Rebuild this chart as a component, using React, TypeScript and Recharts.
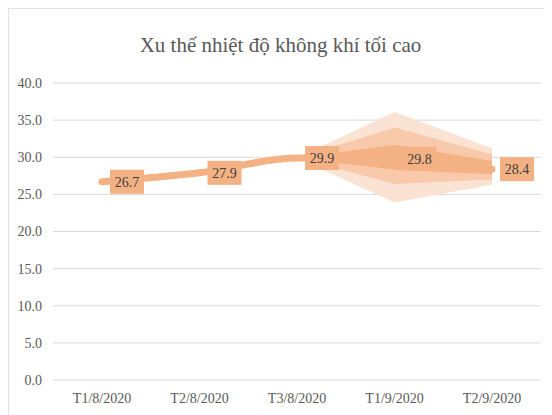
import { ComposedChart, Line, Area, XAxis, YAxis, CartesianGrid, LabelList } from "recharts";

const categories = ["T1/8/2020", "T2/8/2020", "T3/8/2020", "T1/9/2020", "T2/9/2020"];
const maxTemp = [26.7, 27.9, 29.9, 29.8, 28.4];

// forecast cone, three bands (outer = lightest)
const outerLow = [null, null, 29.9, 23.9, 26.3];
const outerHigh = [null, null, 29.9, 36.1, 31.2];
const midLow = [null, null, 29.9, 26.4, 27.0];
const midHigh = [null, null, 29.9, 34.0, 30.4];
const innerLow = [null, null, 29.9, 28.3, 27.7];
const innerHigh = [null, null, 29.9, 31.7, 29.5];

const yTicks = [0, 5, 10, 15, 20, 25, 30, 35, 40];

const range = (lo: (number | null)[], hi: (number | null)[], i: number) =>
  lo[i] == null || hi[i] == null ? null : [lo[i], hi[i]];

const data = categories.map((name, i) => ({
  name,
  temp: maxTemp[i],
  outer: range(outerLow, outerHigh, i),
  mid: range(midLow, midHigh, i),
  inner: range(innerLow, innerHigh, i),
}));

const FONT = "Liberation Serif, Times New Roman, serif";
const ORANGE = "#F4B183";

function BoxLabel(props: any) {
  const { x, y, value } = props;
  const w = 34;
  const h = 24;
  return (
    <g>
      <rect x={x + 8} y={y - h / 2} width={w} height={h} fill={ORANGE} />
      <text
        x={x + 8 + w / 2}
        y={y + 5}
        textAnchor="middle"
        style={{ fontFamily: FONT, fontSize: 14 }}
        fill="#404040"
      >
        {Number(value).toFixed(1)}
      </text>
    </g>
  );
}

export default function App() {
  return (
    <div
      style={{
        position: "relative",
        width: 543,
        height: 406,
        borderTop: "1px solid #e2e2e2",
        borderLeft: "1px solid #e2e2e2",
        background: "#fff",
        fontFamily: FONT,
      }}
    >
      <div
        style={{
          position: "absolute",
          top: 24,
          left: 0,
          width: 543,
          textAlign: "center",
          fontSize: 21,
          color: "#595959",
        }}
      >
        Xu thế nhiệt độ không khí tối cao
      </div>
      <ComposedChart
        width={543}
        height={406}
        data={data}
        margin={{ top: 74, right: 11, left: 0, bottom: 5 }}
        style={{ fontFamily: FONT }}
      >
        <CartesianGrid vertical={false} stroke="#d9d9d9" />
        <XAxis
          dataKey="name"
          axisLine={false}
          tickLine={false}
          tickMargin={7}
          padding={{ left: 49, right: 49 }}
          height={30}
          tick={{ fill: "#595959", fontSize: 14, style: { fontFamily: FONT } }}
        />
        <YAxis
          domain={[0, 40]}
          ticks={yTicks}
          width={44}
          axisLine={false}
          tickLine={false}
          tickMargin={5}
          tickFormatter={(v: number) => v.toFixed(1)}
          tick={{ fill: "#595959", fontSize: 14, style: { fontFamily: FONT } }}
        />
        <Area
          type="linear"
          dataKey="outer"
          stroke="none"
          fill="#FBE3D3"
          fillOpacity={1}
          isAnimationActive={false}
        />
        <Area
          type="linear"
          dataKey="mid"
          stroke="none"
          fill="#F8CAAB"
          fillOpacity={1}
          isAnimationActive={false}
        />
        <Area
          type="linear"
          dataKey="inner"
          stroke="none"
          fill={ORANGE}
          fillOpacity={1}
          isAnimationActive={false}
        />
        <Line
          type="monotone"
          dataKey="temp"
          stroke={ORANGE}
          strokeWidth={7}
          strokeLinecap="round"
          dot={false}
          activeDot={false}
          isAnimationActive={false}
        >
          <LabelList dataKey="temp" content={<BoxLabel />} />
        </Line>
      </ComposedChart>
    </div>
  );
}
